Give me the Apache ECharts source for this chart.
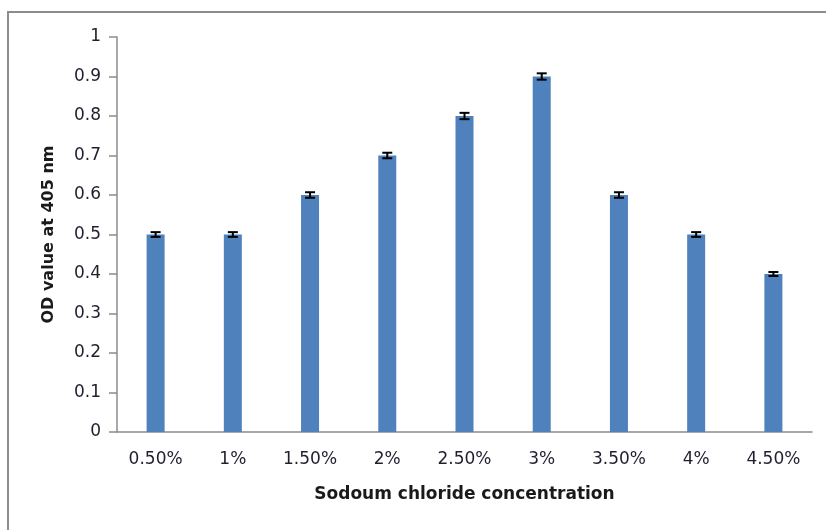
<!DOCTYPE html>
<html>
<head>
<meta charset="utf-8">
<script src="https://cdn.jsdelivr.net/npm/echarts@6/dist/echarts.min.js"></script>
<style>
html,body{margin:0;padding:0;background:#fff;}
#chart{width:826px;height:530px;}
</style>
</head>
<body>
<div id="chart"></div>
<script>
const categories = ['0.50%', '1%', '1.50%', '2%', '2.50%', '3%', '3.50%', '4%', '4.50%'];
const odValues = [0.5, 0.5, 0.6, 0.7, 0.8, 0.9, 0.6, 0.5, 0.4];
const errValues = [0.006, 0.006, 0.007, 0.007, 0.008, 0.008, 0.007, 0.006, 0.005];
const yTicks = [0, 0.1, 0.2, 0.3, 0.4, 0.5, 0.6, 0.7, 0.8, 0.9, 1];

const chart = echarts.init(document.getElementById('chart'));
const errData = odValues.map((v, i) => [i, v - errValues[i], v + errValues[i]]);

chart.setOption({
  animation: false,
  backgroundColor: '#fff',
  graphic: [{
    type: 'rect',
    shape: { x: 8, y: 12, width: 900, height: 600 },
    style: { fill: 'none', stroke: '#8c8c8c', lineWidth: 2 },
    silent: true, z: -1
  }],
  grid: { left: 117, right: 14, top: 37, bottom: 98, containLabel: false },
  xAxis: {
    type: 'category',
    data: categories,
    name: 'Sodoum chloride concentration',
    nameLocation: 'middle',
    nameGap: 54,
    nameTextStyle: { fontFamily: 'DejaVu Sans', fontWeight: 'bold', fontSize: 17, color: '#1a1a1a' },
    axisLine: { lineStyle: { color: '#8c8c8c', width: 1.5 } },
    axisTick: { show: false },
    axisLabel: { fontFamily: 'DejaVu Sans', fontSize: 17, color: '#1f1f2e', margin: 19 }
  },
  yAxis: {
    type: 'value',
    min: 0, max: 1, interval: 0.1,
    name: 'OD value at 405 nm',
    nameLocation: 'middle',
    nameGap: 60,
    nameRotate: 90,
    nameTextStyle: { fontFamily: 'DejaVu Sans', fontWeight: 'bold', fontSize: 16, color: '#1a1a1a' },
    axisLine: { show: true, lineStyle: { color: '#8c8c8c', width: 1.5 } },
    axisTick: { show: true, length: 8, lineStyle: { color: '#8c8c8c', width: 1.5 } },
    splitLine: { show: false },
    axisLabel: {
      fontFamily: 'DejaVu Sans', fontSize: 17, color: '#1f1f2e', margin: 16,
      formatter: v => { const t = yTicks.find(x => Math.abs(x - v) < 1e-9); return t === undefined ? '' : String(+t.toFixed(1)); }
    }
  },
  series: [{
    type: 'bar',
    data: odValues,
    barWidth: 18,
    itemStyle: { color: '#4f81bd' }
  }, {
    type: 'custom',
    data: errData,
    z: 10,
    renderItem: function (params, api) {
      const x = api.coord([api.value(0), api.value(1)])[0];
      const lo = api.coord([api.value(0), api.value(1)])[1];
      const hi = api.coord([api.value(0), api.value(2)])[1];
      const hw = 5;
      const style = { stroke: '#000', lineWidth: 2 };
      return {
        type: 'group',
        children: [
          { type: 'line', shape: { x1: x, y1: lo, x2: x, y2: hi }, style: style },
          { type: 'line', shape: { x1: x - hw, y1: lo, x2: x + hw, y2: lo }, style: style },
          { type: 'line', shape: { x1: x - hw, y1: hi, x2: x + hw, y2: hi }, style: style }
        ]
      };
    }
  }]
});
</script>
</body>
</html>
